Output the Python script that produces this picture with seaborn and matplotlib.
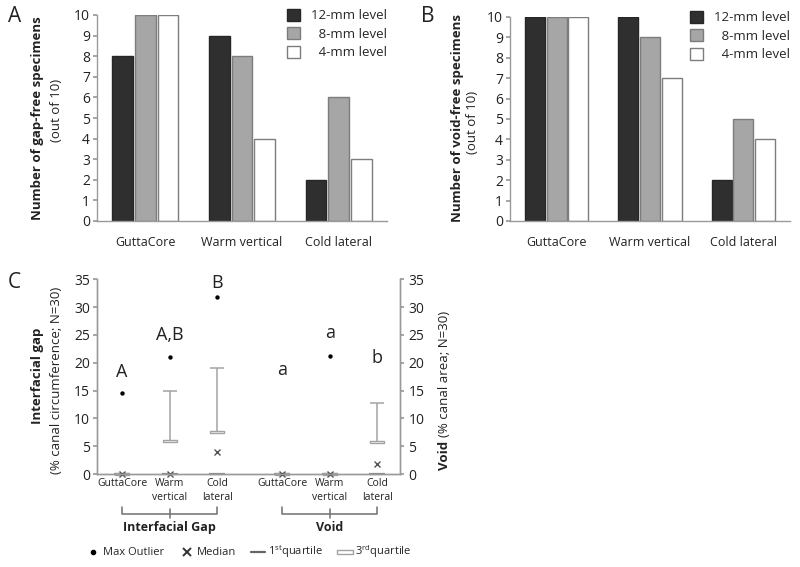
import numpy as np
import pandas as pd
import matplotlib
matplotlib.use("Agg")
import matplotlib.pyplot as plt
import seaborn as sns
from matplotlib.lines import Line2D

# ---------------- data ----------------
methods = ["GuttaCore", "Warm vertical", "Cold lateral"]
levels = ["12-mm level", "8-mm level", "4-mm level"]
gap_free_12 = [8, 9, 2]
gap_free_8 = [10, 8, 6]
gap_free_4 = [10, 4, 3]
void_free_12 = [10, 10, 2]
void_free_8 = [10, 9, 5]
void_free_4 = [10, 7, 4]

c_labels = ["GuttaCore", "Warm\nvertical", "Cold\nlateral"]
gap_max_outlier = [14.6, 21.0, 31.8]
gap_whisker = [np.nan, 15.0, 19.0]
gap_q3 = [0.0, 6.0, 7.5]
gap_median = [0.0, 0.0, 4.0]
gap_q1 = [0.0, 0.0, 0.0]
gap_letters = ["A", "A,B", "B"]
void_max_outlier = [np.nan, 21.3, np.nan]
void_whisker = [np.nan, np.nan, 12.8]
void_q3 = [0.0, 0.0, 5.7]
void_median = [0.0, 0.0, 1.8]
void_q1 = [0.0, 0.0, 0.0]
void_letters = ["a", "a", "b"]

# annotation heights for significance letters (data units)
gap_letter_y = [18.3, 25.0, 34.4]
void_letter_y = [18.7, 25.4, 20.9]

# ---------------- style ----------------
sns.set_theme(style="white")
FONT = ["Open Sans", "DejaVu Sans"]
plt.rcParams["font.family"] = FONT
plt.rcParams["mathtext.fontset"] = "custom"
plt.rcParams["mathtext.rm"] = "Open Sans"
SPINE = "#9a9a9a"
TXT = "#222222"
bar_colors = ["#2f2f2f", "#a6a6a6", "#ffffff"]

W, H = 800, 567
fig = plt.figure(figsize=(8.0, 5.67), dpi=100)


def fx(px):
    return px / W


def fy(py):
    return 1 - py / H


def bar_panel(rect, c12, c8, c4):
    ax = fig.add_axes(rect)
    df = pd.DataFrame({
        "method": methods * 3,
        "level": [levels[0]] * 3 + [levels[1]] * 3 + [levels[2]] * 3,
        "count": list(c12) + list(c8) + list(c4),
    })
    sns.barplot(data=df, x="method", y="count", hue="level", order=methods,
                hue_order=levels, palette=bar_colors, width=0.7, gap=0.08,
                edgecolor="#7d7d7d", linewidth=1.0, saturation=1, ax=ax)
    for p in ax.patches:
        fc = p.get_facecolor()
        if fc[0] < 0.3:
            p.set_edgecolor("#262626")
    handles, labels = ax.get_legend_handles_labels()
    ax.legend(handles, ["12-mm level", "\u20078-mm level", "\u20074-mm level"],
              loc="upper right", bbox_to_anchor=(1.0, 1.03), frameon=False,
              handlelength=1.0, handleheight=1.0, handletextpad=0.8,
              labelspacing=0.38, borderaxespad=0, borderpad=0, fontsize=9.5)
    ax.set_ylim(0, 10)
    ax.set_xlim(-0.5, 2.5)
    ax.set_yticks(range(0, 11))
    ax.set_xlabel("")
    ax.set_ylabel("")
    for s in ["top", "right"]:
        ax.spines[s].set_visible(False)
    for s in ["left", "bottom"]:
        ax.spines[s].set_color(SPINE)
        ax.spines[s].set_linewidth(1.0)
    ax.tick_params(axis="y", left=True, length=3, color=SPINE, labelsize=10,
                   labelcolor=TXT, pad=2)
    ax.tick_params(axis="x", bottom=False, labelsize=9, labelcolor=TXT, pad=5)
    return ax


axA = bar_panel([fx(97), fy(221), fx(290), (221 - 15) / H],
                gap_free_12, gap_free_8, gap_free_4)
axB = bar_panel([fx(510), fy(221), fx(280), (221 - 17) / H],
                void_free_12, void_free_8, void_free_4)

fig.text(fx(38), fy(118), "Number of gap-free specimens", rotation=90,
         ha="center", va="center", fontsize=9.5, fontweight="bold", color=TXT)
fig.text(fx(56), fy(110), "(out of 10)", rotation=90, ha="center",
         va="center", fontsize=9.5, color=TXT)
fig.text(fx(458), fy(118), "Number of void-free specimens", rotation=90,
         ha="center", va="center", fontsize=9.5, fontweight="bold", color=TXT)
fig.text(fx(472), fy(122), "(out of 10)", rotation=90, ha="center",
         va="center", fontsize=9.5, color=TXT)

fig.text(fx(15), fy(17), "A", ha="center", va="center", fontsize=15, color=TXT)
fig.text(fx(428), fy(17), "B", ha="center", va="center", fontsize=15, color=TXT)
fig.text(fx(14), fy(283), "C", ha="center", va="center", fontsize=15, color=TXT)

# ---------------- panel C ----------------
axC = fig.add_axes([fx(97), fy(474), fx(303), (474 - 279.4) / H])
axV = axC.twinx()
gap_x = np.array([0.0, 1.0, 2.0])
void_x = gap_x + 3.37

rect_marker = [(-1, -0.2), (1, -0.2), (1, 0.2), (-1, 0.2), (-1, -0.2)]
GRAY = "#a3a3a3"


def draw_series(ax, xs, outl, wh, q3, med, q1):
    outl = np.array(outl, float)
    wh = np.array(wh, float)
    q3 = np.array(q3, float)
    m = np.isfinite(wh)
    if m.any():
        ax.errorbar(xs[m], q3[m], yerr=[np.zeros(m.sum()), wh[m] - q3[m]],
                    fmt="none", ecolor=GRAY, elinewidth=1.1, capsize=5,
                    capthick=1.1, clip_on=False)
    ax.plot(xs, q1, ls="none", marker="_", ms=11, mew=1.6, color="#8c8c8c",
            clip_on=False)
    ax.plot(xs, q3, ls="none", marker=rect_marker, ms=10, mfc="white",
            mec=GRAY, mew=1.0, clip_on=False)
    ax.plot(xs, med, ls="none", marker="x", ms=4.5, mew=1.0, color="#555555",
            clip_on=False)
    sns.scatterplot(x=xs, y=outl, marker="o", s=10, color="black",
                    edgecolor="black", linewidth=0, ax=ax, clip_on=False,
                    legend=False)


draw_series(axC, gap_x, gap_max_outlier, gap_whisker, gap_q3, gap_median, gap_q1)
draw_series(axV, void_x, void_max_outlier, void_whisker, void_q3, void_median, void_q1)

for ax in (axC, axV):
    ax.set_ylim(0, 35)
    ax.set_yticks(range(0, 36, 5))
    ax.set_xlim(-0.53, 5.85)
    ax.grid(False)
    ax.spines["top"].set_visible(False)
    for s in ["left", "right", "bottom"]:
        ax.spines[s].set_color(SPINE)
        ax.spines[s].set_linewidth(1.0)
    ax.set_ylabel("")
    ax.set_xlabel("")

axC.tick_params(axis="y", left=True, length=3, color=SPINE, labelsize=10,
                labelcolor=TXT, pad=2)
axV.tick_params(axis="y", right=True, length=3, color=SPINE, labelsize=10,
                labelcolor=TXT, pad=3)
axC.set_xticks(np.concatenate([gap_x, void_x]))
axC.set_xticklabels(c_labels + c_labels, fontsize=7.5, color=TXT, linespacing=1.4)
axC.tick_params(axis="x", bottom=False, length=0, pad=3)

for xs, letters, ly in [(gap_x, gap_letters, gap_letter_y),
                        (void_x, void_letters, void_letter_y)]:
    for x, t, y in zip(xs, letters, ly):
        axC.text(x, y, t, ha="center", va="center", fontsize=13, color=TXT)

# brackets below panel C
for xs, name in [(gap_x, "Interfacial Gap"), (void_x, "Void")]:
    axC.plot([xs[0], xs[0], xs[2], xs[2]], [-6.0, -7.2, -7.2, -6.0],
             color="#6f6f6f", lw=1.1, clip_on=False)
    axC.plot([xs[1], xs[1]], [-6.3, -8.0], color="#6f6f6f", lw=1.1, clip_on=False)
    axC.text(xs[1], -9.6, name, ha="center", va="center", fontsize=9,
             fontweight="bold", color=TXT)

# left y-label of C
fig.text(fx(38), fy(376), "Interfacial gap", rotation=90, ha="center",
         va="center", fontsize=9.5, fontweight="bold", color=TXT)
fig.text(fx(56), fy(380), "(% canal circumference; N=30)", rotation=90,
         ha="center", va="center", fontsize=9.5, color=TXT)

# right y-label of C (mixed weight)
fig.canvas.draw()
r = fig.canvas.get_renderer()
t1 = fig.text(fx(445), fy(470), "Void", rotation=90, ha="center", va="bottom",
              fontsize=9.5, fontweight="bold", color=TXT)
bb = t1.get_window_extent(renderer=r)
fig.text(fx(445), (bb.y1 + 4) / H, "(% canal area; N=30)", rotation=90,
         ha="center", va="bottom", fontsize=9.5, color=TXT)

# bottom legend
leg_handles = [
    Line2D([], [], ls="none", marker="o", color="black", ms=3),
    Line2D([], [], ls="none", marker="x", color="#333333", ms=6, mew=1.4),
    Line2D([], [], color="#666666", lw=1.6),
    Line2D([], [], ls="none", marker=rect_marker, ms=11, mfc="white", mec=GRAY, mew=1.0),
]
leg_labels = ["Max Outlier", "Median", "1$^{\\mathrm{st}}$quartile", "3$^{\\mathrm{rd}}$quartile"]
fig.legend(leg_handles, leg_labels, loc="center", bbox_to_anchor=(fx(249), fy(552)),
           ncol=4, frameon=False, fontsize=8, handlelength=1.2,
           handletextpad=0.3, columnspacing=1.4)

fig.savefig("out.png", dpi=100)
